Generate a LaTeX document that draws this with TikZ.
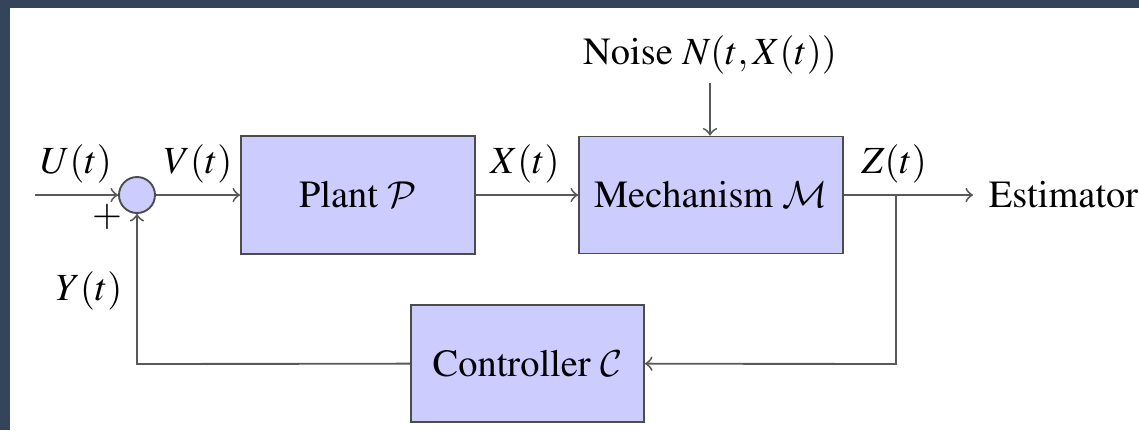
\documentclass[tikz,border=0pt]{standalone}
\usepackage[T1]{fontenc}
\usepackage{mathptmx}
\DeclareMathAlphabet{\mathcal}{OMS}{cmsy}{m}{n}
\definecolor{frame}{HTML}{34445A}
\definecolor{boxfill}{HTML}{CCCCFF}
\tikzset{
  blockbox/.style={draw=black!70, fill=boxfill, line width=0.5pt, inner sep=0pt},
  sumnode/.style={circle, draw=black!70, fill=boxfill, line width=0.5pt, minimum size=36*0.26667pt, inner sep=0pt},
  wire/.style={draw=black!65, line width=0.5pt},
  lbl/.style={inner sep=0pt},
}
\begin{document}
\begin{tikzpicture}[x=0.26667pt, y=-0.26667pt, font=\rmfamily\fontsize{10.25}{12}\selectfont]
\useasboundingbox (0,0) rectangle (1139,430);
\fill[frame] (0,0) rectangle (1139,430);
\fill[white] (10,8) rectangle (1139,430);

\node[sumnode] (s) at (137,195) {};
\node[blockbox, minimum width=234*0.26667pt, minimum height=118*0.26667pt] (plant) at (358,195) {Plant $\mathcal{P}$};
\node[blockbox, minimum width=264*0.26667pt, minimum height=117*0.26667pt] (mech) at (711,195) {Mechanism $\mathcal{M}$};
\node[blockbox, minimum width=233*0.26667pt, minimum height=117*0.26667pt] (ctrl) at (527.5,363.5) {Controller $\mathcal{C}$};
\node[lbl] (noise) at (710,55) {Noise $N(t,X(t))$};
\node[lbl, anchor=west] (est) at (988,195) {Estimator};

\coordinate (in) at (35,195);
\coordinate (ntop) at (710,83);
\coordinate (br) at (896,195);
\coordinate (brd) at (896,364);
\coordinate (fbl) at (137,364);

\draw[wire,->] (in) -- (s);
\draw[wire,->] (s) -- (plant);
\draw[wire,->] (plant) -- (mech);
\draw[wire,->] (ntop) -- (mech.north -| ntop);
\draw[wire] (mech) -- (br);
\draw[wire,->] (br) -- ([xshift=-4pt]est.west);
\draw[wire,->] (br) -- (brd) -- (ctrl);
\draw[wire,->] (ctrl) -- (fbl) -- (s);

\node[lbl] (ul) at (76,164) {$U(t)$};
\node[lbl] (vl) at (198,164) {$V(t)$};
\node[lbl] (xl) at (525,164) {$X(t)$};
\node[lbl] (zl) at (894,164) {$Z(t)$};
\node[lbl] (yl) at (89,291) {$Y(t)$};
\node[lbl] (pl) at (107,217) {$+$};
\end{tikzpicture}
\end{document}
